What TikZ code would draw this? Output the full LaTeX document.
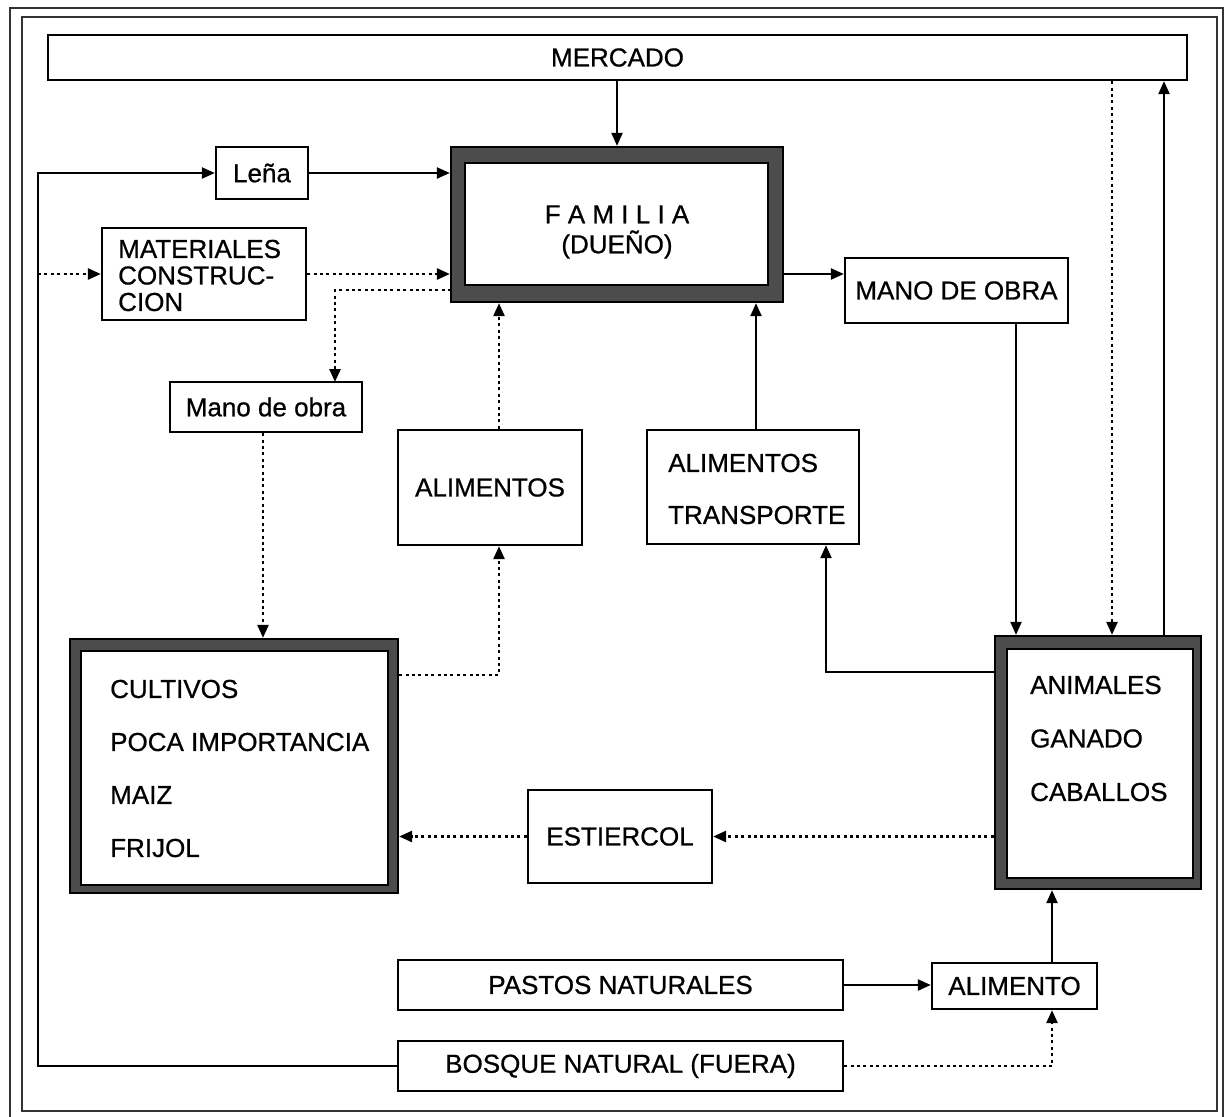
\documentclass[tikz,border=0pt]{standalone}
\usepackage{fontspec}
\setmainfont{Liberation Sans}[FakeBold=0.7]
\usetikzlibrary{arrows.meta}
\begin{document}
\begin{tikzpicture}[x=1pt,y=-1pt,
  every node/.style={font=\fontsize{26}{30}\selectfont},
  box/.style={draw=black, line width=2.3pt, fill=white, inner sep=0pt},
  thickbox/.style={draw=black, line width=2.3pt, fill=black!70, inner sep=0pt},
  innerbox/.style={draw=black, line width=2pt, fill=white, inner sep=0pt},
  txt/.style={inner sep=0pt, align=left, anchor=west},
  arr/.style={line width=2.2pt, -{Triangle[length=13pt,width=11pt]}},
  darr/.style={arr, line width=2.6pt, dash pattern=on 3pt off 3.4pt},
  frameline/.style={draw=black!80, line width=2.2pt}]
\useasboundingbox (0,0) rectangle (1225,1116);
\fill[white] (0,0) rectangle (1225,1116);
% frame
\draw[frameline] (10,8) rectangle (1223,1135);
\draw[frameline] (22,17) rectangle (1217,1111);

% nodes
\node[box, minimum width=1139pt, minimum height=45pt] (mercado) at (617.5,57.5) {MERCADO};
\node[thickbox, minimum width=332pt, minimum height=155pt] (fam) at (617,224.5) {};
\node[innerbox, minimum width=303pt, minimum height=122pt] (famin) at (616.5,224) {};
\node[inner sep=0pt, align=center, font=\fontsize{26}{30}\selectfont] (famtxt) at (617,232) {F A M I L I A\\(DUEÑO)};

\node[box, minimum width=92pt, minimum height=52pt] (lena) at (262,173) {Leña};
\node[box, minimum width=204pt, minimum height=92pt] (mat) at (204,274) {};
\node[txt, font=\fontsize{26}{26.5}\selectfont] (mattxt) at (118,275.5) {MATERIALES\\CONSTRUC-\\CION};
\node[box, minimum width=192pt, minimum height=50pt] (manoL) at (266,407) {Mano de obra};
\node[box, minimum width=223pt, minimum height=65pt] (manoR) at (956.5,290.5) {MANO DE OBRA};
\node[box, minimum width=184pt, minimum height=115pt] (alim) at (490,487.5) {ALIMENTOS};
\node[box, minimum width=212pt, minimum height=114pt] (alimT) at (753,487) {};
\node[txt, font=\fontsize{26}{52}\selectfont] (alimTtxt) at (668,489) {ALIMENTOS\\TRANSPORTE};

\node[thickbox, minimum width=328pt, minimum height=254pt] (cult) at (234,766) {};
\node[innerbox, minimum width=307pt, minimum height=234pt] (cultin) at (234.5,768) {};
\node[txt, font=\fontsize{26}{53}\selectfont] (culttxt) at (110,768.5) {CULTIVOS\\POCA IMPORTANCIA\\MAIZ\\FRIJOL};

\node[thickbox, minimum width=206pt, minimum height=253pt] (anim) at (1098,762.5) {};
\node[innerbox, minimum width=186pt, minimum height=229pt] (animin) at (1100,763.5) {};
\node[txt, font=\fontsize{26}{53.5}\selectfont] (animtxt) at (1030,738.5) {ANIMALES\\GANADO\\CABALLOS};

\node[box, minimum width=184pt, minimum height=93pt] (estier) at (620,836.5) {ESTIERCOL};
\node[box, minimum width=445pt, minimum height=50pt] (pastos) at (620.5,985) {PASTOS NATURALES};
\node[box, minimum width=165pt, minimum height=46pt] (alimento) at (1014.5,986) {ALIMENTO};
\node[box, minimum width=445pt, minimum height=50pt] (bosque) at (620.5,1066) {BOSQUE NATURAL (FUERA)};

% helper coordinates
\coordinate (lc) at (38,173);
\coordinate (fo) at (451,290);
\coordinate (mt) at (335,382);
\coordinate (fe) at (783,274);
\coordinate (k1) at (1016,0);
\coordinate (k2) at (1112,0);
\coordinate (k3) at (1164,0);
\coordinate (k4) at (826,672);
\coordinate (k5) at (756,0);
\coordinate (k6) at (499,0);
\coordinate (k7) at (499,675);
\coordinate (k8) at (1052,1066);
\coordinate (k9) at (263,0);

% connectors
\draw[arr] (fam.north |- mercado.south) -- (fam.north);
\draw[arr] (bosque.west) -- (bosque.west -| lc) -- (lc) -- (lena.west);
\draw[arr] (lena.east) -- (lena.east -| fam.west);
\draw[darr] (mat.west -| lc) -- (mat.west);
\draw[darr] (mat.east) -- (mat.east -| fam.west);
\draw[darr] (fo) -- (fo -| mt) -- (mt);
\draw[darr] (k9 |- manoL.south) -- (k9 |- cult.north);
\draw[darr] (k7 -| cult.east) -- (k7) -- (k7 |- alim.south);
\draw[darr] (k6 |- alim.north) -- (k6 |- fam.south);
\draw[arr] (k5 |- alimT.north) -- (k5 |- fam.south);
\draw[arr] (fe) -- (fe -| manoR.west);
\draw[arr] (k1 |- manoR.south) -- (k1 |- anim.north);
\draw[darr] (k2 |- mercado.south) -- (k2 |- anim.north);
\draw[arr] (k3 |- anim.north) -- (k3 |- mercado.south);
\draw[arr] (k4 -| anim.west) -- (k4) -- (k4 |- alimT.south);
\draw[darr] (anim.west |- estier.east) -- (estier.east);
\draw[darr] (estier.west) -- (estier.west -| cult.east);
\draw[arr] (pastos.east) -- (pastos.east -| alimento.west);
\draw[darr] (bosque.east) -- (bosque.east -| k8) -- (k8 |- alimento.south);
\draw[arr] (k8 |- alimento.north) -- (k8 |- anim.south);
\end{tikzpicture}
\end{document}
